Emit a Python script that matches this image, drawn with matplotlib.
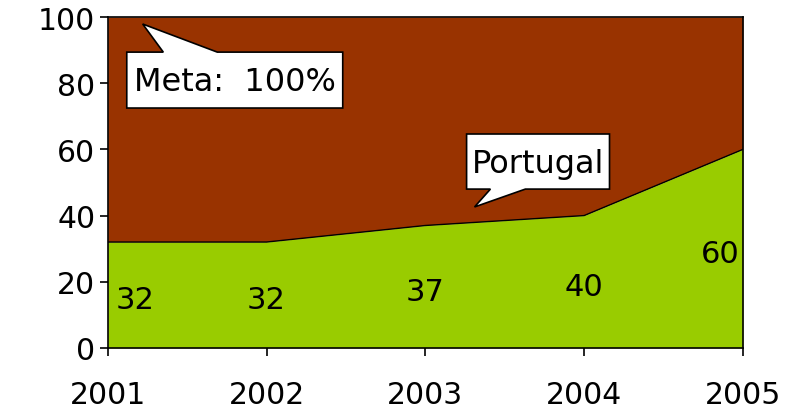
import matplotlib
matplotlib.use("Agg")
import matplotlib.pyplot as plt
from matplotlib.patches import Polygon

years = [2001, 2002, 2003, 2004, 2005]
portugal = [32, 32, 37, 40, 60]
meta = [100, 100, 100, 100, 100]
yticks = [0, 20, 40, 60, 80, 100]

green = "#99CC00"
brown = "#993300"

fig = plt.figure(figsize=(7.92, 4.10), dpi=100)
ax = fig.add_axes([0.136, 0.149, 0.802, 0.807])

ax.fill_between(years, portugal, meta, color=brown, lw=0)
ax.fill_between(years, 0, portugal, color=green, lw=0)
ax.plot(years, portugal, color="black", lw=1)

ax.set_xlim(2001, 2005)
ax.set_ylim(0, 100)
ax.set_yticks(yticks)
ax.set_xticks(years)
ax.set_xticklabels([str(y) for y in years])
for s in ax.spines.values():
    s.set_linewidth(1.2)
    s.set_color("black")
ax.tick_params(axis="y", direction="out", length=6, width=1.2, labelsize=21.5, pad=3)
ax.tick_params(axis="x", direction="out", length=6, width=1.2, labelsize=21.5, pad=17)

# data labels
offsets = [0.17, 0, 0, 0, -0.14]
for x, v, dx in zip(years, portugal, offsets):
    ax.text(x + dx, v / 2 - 1.5, str(v), ha="center", va="center", fontsize=22)

# callouts
def callout(box, tip, base, text):
    x0, x1, y0, y1 = box
    b0, b1 = base
    if tip[1] > y1:
        pts = [(x0, y0), (x1, y0), (x1, y1), (b1, y1), tip, (b0, y1), (x0, y1)]
    else:
        pts = [(x0, y0), (b0, y0), tip, (b1, y0), (x1, y0), (x1, y1), (x0, y1)]
    poly = Polygon(pts, closed=True, facecolor="white", edgecolor="black", lw=1.2, zorder=5)
    ax.add_patch(poly)
    ax.text((x0 + x1) / 2, (y0 + y1) / 2 - 0.5, text, ha="center", va="center", fontsize=23, zorder=6)

callout((2001.12, 2002.48, 72.5, 89.4), (2001.22, 97.9), (2001.35, 2001.69), "Meta:  100%")
callout((2003.26, 2004.16, 48.0, 64.65), (2003.31, 42.6), (2003.41, 2003.63), "Portugal")

fig.savefig("out.png", dpi=100)
